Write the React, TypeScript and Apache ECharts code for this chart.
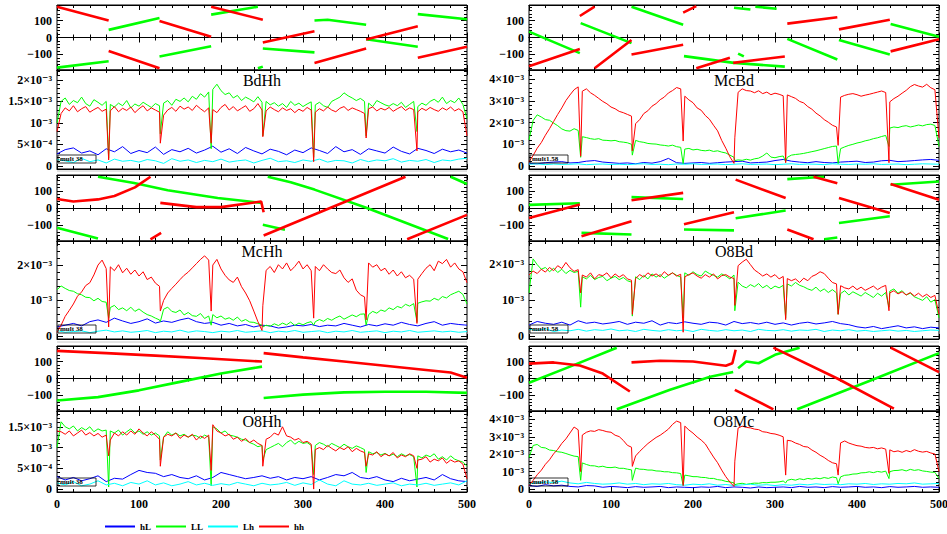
import { useEffect, useRef } from "react";
import * as echarts from "echarts";

// ---------- axes / ticks ----------
const X_MIN = 0;
const X_MAX = 500;
const X_TICK = 100;
const xTickLabels = [0, 100, 200, 300, 400, 500];
const DIP_X = [63, 126, 188, 251, 313, 377, 439];
const PHASE_MIN = -192;
const PHASE_MAX = 192;
const phaseLabelValues = [-100, 0, 100];
const phaseMinorTicks = [-180, -160, -140, -120, -80, -60, -40, -20, 20, 40, 60, 80, 120, 140, 160, 180];
// amplitude values are stored in units of 1e-5
const ampLabelText: Record<number, string> = {
  0: "0", 50: "5×10⁻⁴", 100: "10⁻³", 150: "1.5×10⁻³", 200: "2×10⁻³", 300: "3×10⁻³", 400: "4×10⁻³",
};
const seriesNames = ["hL", "LL", "Lh", "hh"];
const seriesColors = ["#0000ff", "#00ff00", "#00ffff", "#ff0000"];

// ---------- BdHh ----------
const bdhhHh = [80,122,135,128,140,126,133,138,125,131,136,127,132, 128,138,126,134,129,137,124,133,140,128,135,130,125, 118,130,136,127,139,132,137,129,141,133,126,135, 131,124,136,143,130,138,128,134,140,127,133,145,130, 128,137,131,126,135,129,133,124,132,127,136,130, 125,133,128,137,130,126,134,138,129,135,131,127,122, 133,137,128,134,130,136,127,133,138,129,135,131, 126,134,129,136,131,127,135,130,137,128,133,126,70];
const bdhhHhDip = [14, 53, 53, 68, 10, 65, 35];
const bdhhLL = [100,150,158,143,152,147,160,145,139,154,148,141,150, 143,137,146,140,152,135,144,139,148,142,136,145,140, 146,152,141,155,150,158,149,162,155,168,160,172, 178,190,175,166,170,158,164,152,160,155,149,161,148, 150,142,147,139,145,136,150,141,146,138,144,149, 142,148,140,136,150,155,160,170,163,158,152,157,150, 146,138,152,147,142,139,145,140,148,136,143,150, 138,146,141,150,155,148,160,145,152,147,158,143,110];
const bdhhLLDip = [18, 75, 40, 70, 20, 70, 80];
const bdhhHL = [28,38,42,30,35,26,40,33,45,29, 36,31,44,27,38,33,41,30,37,46, 32,40,29,43,35,28,39,34,26,37, 31,42,36,29,45,33,38,27,40,35, 30,44,34,28,41,36,29,39,33,37,30];
const bdhhLh = [15,12,8,18,10,14,7,16,11,13, 9,15,12,6,17,11,14,8,13,10, 16,9,12,14,7,13,18,10,12,8, 14,11,16,9,13,12,7,15,10,14, 12,17,9,13,11,15,8,14,12,16,18];
const bdhhPhaseHh = [[[0,182],[63,100]], [[63,-80],[125,-182]], [[125,97],[188,5]], [[188,182],[251,105]], [[251,-30],[314,37]], [[314,-150],[377,-65]], [[377,-12],[440,67]], [[440,-120],[500,-55]]];
const bdhhPhaseLL = [[[0,-178],[63,-140]], [[63,45],[125,115]], [[125,-112],[188,-52]], [[188,135],[245,182]], [[245,-182],[251,-172]], [[251,-65],[314,-88]], [[314,100],[330,105],[377,75]], [[377,-10],[440,-55]], [[440,138],[500,108]]];

// ---------- McBd ----------
const mcbdHh = [20,48,82,108,142,172,205,238,268,302,328,352,365, 345,356,338,326,312,298,287,272,264,252,246,238,230, 195,214,242,255,276,288,306,318,337,348,362,356, 322,305,292,268,257,233,216,188,162,118,82,42,12, 340,356,348,346,338,347,334,341,329,336,331,324, 328,320,312,298,291,274,262,244,231,214,202,188,180, 318,326,331,334,329,322,327,331,336,341,346,339, 296,311,322,336,349,366,376,369,364,377,361,352,130];
const mcbdHhDip = [45, 70, 115, 130, 15, 95, 15];
const mcbdLL = [120,210,236,226,214,211,198,186,171,163,161,172,164, 135,131,126,123,126,119,118,116,118,112,110,107,100, 118,112,109,104,102,101,97,95,92,96,89,86, 78,81,74,77,72,70,73,67,70,64,60,50,40, 28,26,31,27,33,36,46,60,41,38,43,46, 40,50,53,55,58,62,66,70,75,80,85,90,92, 80,88,95,100,106,110,116,120,126,130,136,141, 175,180,177,183,186,180,184,189,185,191,193,187,90];
const mcbdLLDip = [40, 50, 10, 25, 20, 10, 90];
const mcbdHL = [12,10,15,18,20,14,16,22,25,18, 15,12,14,10,16,13,20,35,15,12, 14,16,12,15,18,20,22,14,16,18, 25,30,22,18,15,20,16,14,18,20, 22,16,18,24,26,20,22,25,28,30,26];
const mcbdLh = [8,10,6,9,7,8,10,6,8,9, 7,8,6,9,10,7,8,6,9,8, 10,7,8,9,6,8,10,7,8,9, 6,8,10,7,9,8,6,10,8,7, 9,8,10,7,8,9,6,8,10,9,8];
const mcbdPhaseHh = [[[0,-170],[62,-68]], [[62,127],[80,182]], [[80,-182],[125,-15]], [[125,-100],[188,-43]], [[188,147],[204,185]], [[204,-182],[245,-120]], [[249,-150],[312,-112]], [[315,82],[376,120]], [[378,48],[440,105]], [[441,-82],[500,-10]]];
const mcbdPhaseLL = [[[0,35],[62,-92]], [[63,85],[125,-33]], [[125,182],[188,75]], [[189,-110],[250,-150],[312,-172]], [[250,176],[270,165]], [[276,182],[302,170]], [[255,-95],[262,-112]], [[315,-8],[376,-130]], [[378,-15],[440,-100]], [[441,80],[500,5]]];

// ---------- McHh ----------
const mchhHh = [10,30,55,72,90,112,124,142,150,172,200,214,190, 195,184,201,178,191,174,186,169,181,159,166,149,140, 100,121,134,146,159,171,180,192,204,216,226,214, 200,216,189,171,158,151,166,139,121,99,70,40,15, 185,196,179,201,189,206,184,196,211,189,201,184, 196,184,201,189,179,176,186,164,151,161,129,116,110, 206,194,201,184,191,174,186,169,181,164,171,160, 160,176,191,201,184,211,204,216,194,206,189,181,150];
const mchhHhDip = [25, 70, 70, 85, 50, 45, 35];
const mchhLL = [130,141,134,128,126,119,116,109,108,99,106,97,95, 80,86,74,79,71,81,69,76,67,60,56,50,45, 75,81,69,66,73,59,66,57,55,63,49,56, 60,51,56,47,51,44,53,41,46,39,38,34,30, 30,27,34,29,36,31,39,29,36,31,37,40, 40,46,41,49,44,51,56,47,53,59,54,61,62, 60,69,64,73,69,79,74,83,79,89,84,91, 92,96,99,98,106,101,111,107,116,121,126,117,90];
const mchhLLDip = [50, 40, 30, 25, 30, 30, 40];
const mchhHL = [25,30,35,28,40,45,38,50,42,35, 40,48,36,42,38,45,50,40,35,38, 30,35,28,32,25,30,28,22,25,30, 28,32,26,30,28,35,30,25,32,28, 34,30,38,32,28,35,40,30,35,32,30];
const mchhLh = [15,10,12,14,9,13,16,11,14,10, 12,15,9,13,11,16,10,14,12,9, 13,11,15,10,12,14,9,13,11,15, 10,12,14,9,13,11,15,10,12,14, 9,13,11,15,10,12,14,11,13,10,12];
const mchhPhaseHh = [[[0,52],[20,38],[50,50],[70,70],[95,120],[114,182]], [[114,-182],[127,-145]], [[126,30],[170,5],[200,5],[249,38],[252,-25]], [[252,-160],[425,182]], [[427,-182],[500,-40]]];
const mchhPhaseLL = [[[0,-115],[50,-178]], [[50,182],[94,145],[135,103],[196,58],[249,30]], [[251,-97],[278,-126]], [[257,182],[285,150],[314,107],[378,0],[477,-180]], [[480,182],[500,140]]];

// ---------- O8Bd ----------
const o8bdHh = [170,181,174,186,178,191,182,196,188,205,190,180,185, 170,164,176,159,171,168,176,162,173,164,171,159,155, 160,171,164,176,167,173,165,179,169,176,167,172, 165,171,176,167,161,171,164,173,159,168,171,164,160, 196,206,214,199,184,176,167,173,164,171,159,166, 160,154,159,149,161,154,166,171,179,174,161,149,145, 140,134,131,139,129,136,127,133,139,129,136,141, 120,126,117,123,114,121,111,119,109,116,107,113,60];
const o8bdHhDip = [120, 60, 10, 85, 45, 60, 70];
const o8bdLL = [120,215,199,186,191,179,189,177,186,174,183,177,180, 165,159,169,157,163,166,154,161,166,157,163,154,150, 165,157,169,159,173,164,171,161,169,176,169,164, 176,169,179,171,167,181,174,169,164,173,167,159,170, 150,139,134,143,137,146,134,141,131,139,134,141, 145,139,149,141,137,131,127,136,124,131,121,129,120, 118,126,114,123,117,111,121,114,107,119,111,121, 125,131,119,126,114,119,109,104,99,109,94,101,50];
const o8bdLLDip = [80, 55, 50, 70, 50, 60, 80];
const o8bdHL = [30,40,35,32,38,30,42,35,38,33, 36,40,32,38,35,42,30,37,34,39, 35,32,38,36,30,40,34,37,33,38, 32,36,30,35,38,33,36,40,34,31, 25,22,26,20,24,28,22,25,20,24,22];
const o8bdLh = [18,15,20,12,16,14,18,13,17,15, 19,14,16,12,18,15,13,17,14,16, 12,18,15,13,17,14,16,12,18,15, 14,17,13,16,15,18,12,16,14,17, 13,15,12,14,16,13,15,12,14,16,15];
const o8bdPhaseHh = [[[0,-58],[62,20]], [[64,-165],[125,-77]], [[125,45],[188,88]], [[189,-95],[250,-25]], [[252,165],[313,58]], [[315,-125],[347,-182]], [[347,182],[376,144]], [[378,58],[440,-29]], [[441,140],[500,48]]];
const o8bdPhaseLL = [[[0,18],[62,28]], [[64,-145],[125,-154]], [[125,63],[188,52]], [[189,-125],[250,-130]], [[252,-60],[313,-15]], [[315,168],[360,182]], [[360,-182],[376,-172]], [[378,-87],[440,-48]], [[441,135],[500,154]]];

// ---------- O8Hh ----------
const o8hhHh = [140,138,132,140,128,135,142,130,136,128,134,125,130, 118,135,128,138,130,140,132,145,135,128,138,130,120, 125,132,128,135,122,130,125,132,118,128,122,130, 155,140,135,128,132,120,125,115,122,112,118,110,105, 120,125,135,130,150,128,125,118,122,112,115,108, 95,100,95,105,98,92,100,95,102,90,98,92,88, 85,82,90,78,85,80,88,75,82,78,85,80, 70,72,78,65,72,68,75,62,70,65,68,60,25];
const o8hhHhDip = [80, 55, 45, 55, 0, 55, 50];
const o8hhLL = [100,162,150,145,152,140,148,142,150,138,145,140,142, 140,135,142,130,138,145,135,140,132,138,130,135,128, 125,138,130,135,128,132,125,130,128,122,130,125, 150,145,135,140,130,128,125,120,118,112,108,102,105, 95,100,105,110,102,112,118,108,115,110,112,105, 105,112,108,102,110,105,100,108,102,98,104,100,95, 90,85,88,82,86,80,84,78,85,80,83,78, 80,75,82,78,85,72,78,70,80,72,68,65,55];
const o8hhLLDip = [5, 70, 8, 70, 35, 40, 5];
const o8hhHL = [30,22,28,20,25,32,18,26,24,35, 45,40,38,30,35,28,25,32,22,28, 40,35,30,25,28,32,26,30,22,28, 25,30,22,28,35,32,40,28,25,30, 22,18,26,20,24,28,22,35,25,20,18];
const o8hhLh = [15,10,18,8,12,20,10,14,8,16, 12,20,10,15,8,12,18,10,14,9, 13,10,16,12,8,14,10,12,16,9, 15,11,22,12,8,20,12,10,14,9, 12,15,8,12,10,14,9,12,15,10,20];
const o8hhPhaseHh = [[[0,163],[60,150],[120,135],[180,120],[250,100]], [[252,150],[300,125],[350,100],[400,75],[450,50],[480,35],[500,5]]];
const o8hhPhaseLL = [[[0,-130],[50,-110],[100,-70],[150,-20],[200,30],[250,70]], [[252,-115],[300,-95],[350,-82],[400,-78],[450,-78],[500,-85]]];

// ---------- O8Mc ----------
const o8mcHh = [20,50,82,108,142,168,202,228,262,288,322,356,340, 310,326,334,331,341,336,329,326,309,301,279,251,240, 190,216,239,261,279,296,309,326,344,371,390,381, 361,339,321,299,281,259,221,184,151,109,71,40,15, 350,361,354,351,344,341,329,326,319,316,309,300, 280,276,264,256,244,241,224,211,194,181,164,151,145, 265,276,264,256,249,246,239,236,239,231,236,229, 225,214,219,211,221,214,226,217,212,216,207,201,100];
const o8mcHhDip = [100, 130, 20, 160, 80, 80, 90];
const o8mcLL = [180,250,256,239,236,224,221,214,211,204,196,189,186, 150,141,134,133,127,131,124,123,126,119,119,114,110, 120,114,113,109,109,104,103,99,99,94,93,89, 80,76,71,71,67,66,61,61,54,51,44,41,35, 30,33,27,31,34,33,37,36,39,39,41,46, 50,56,51,59,54,61,57,63,59,66,61,69,65, 70,79,81,86,87,93,94,99,94,101,97,103, 100,106,107,111,104,113,107,111,104,101,97,96,60];
const o8mcLLDip = [50, 50, 20, 25, 35, 30, 60];
const o8mcHL = [20,15,25,18,22,15,12,20,18,10, 15,12,8,14,10,12,15,8,12,10, 8,12,10,15,8,12,10,6,12,8, 10,12,8,15,10,12,8,14,10,12, 15,10,12,8,14,10,12,15,10,12,10];
const o8mcLh = [30,35,40,38,45,35,30,38,32,28, 30,35,28,32,25,30,28,32,25,22, 28,25,30,22,26,20,24,28,22,25, 20,25,22,28,24,30,26,28,25,30, 28,32,26,30,28,32,30,35,28,30,32];
const o8mcPhaseHh = [[[0,88],[30,95],[62,77],[90,29],[123,-77]], [[125,95],[160,105],[200,100],[240,75],[248,90],[252,170]], [[251,-67],[298,-182]], [[298,182],[376,0],[445,-178]], [[441,182],[500,38]]];
const o8mcPhaseLL = [[[0,-25],[50,70],[107,182]], [[107,-182],[172,-67],[221,10],[249,38]], [[255,60],[265,100],[280,90],[300,140],[330,182]], [[327,-182],[415,-15],[500,150]]];

// ---------- panels ----------
const panels = [
  { title: "BdHh", col: 0, row: 0, mult: "mult 38", ampMin: -7, ampMax: 223, ampLabels: [0, 50, 100, 150, 200], ampMinor: 10,
    amp: [bdhhHL, bdhhLL, bdhhLh, bdhhHh], dips: [null, bdhhLLDip, null, bdhhHhDip], phase: [bdhhPhaseLL, bdhhPhaseHh] },
  { title: "McBd", col: 1, row: 0, mult: "mult1.58", ampMin: -14, ampMax: 443, ampLabels: [0, 100, 200, 300, 400], ampMinor: 20,
    amp: [mcbdHL, mcbdLL, mcbdLh, mcbdHh], dips: [null, mcbdLLDip, null, mcbdHhDip], phase: [mcbdPhaseLL, mcbdPhaseHh] },
  { title: "McHh", col: 0, row: 1, mult: "mult 38", ampMin: -9, ampMax: 268, ampLabels: [0, 100, 200], ampMinor: 20,
    amp: [mchhHL, mchhLL, mchhLh, mchhHh], dips: [null, mchhLLDip, null, mchhHhDip], phase: [mchhPhaseLL, mchhPhaseHh] },
  { title: "O8Bd", col: 1, row: 1, mult: "mult1.58", ampMin: -9, ampMax: 265, ampLabels: [0, 100, 200], ampMinor: 20,
    amp: [o8bdHL, o8bdLL, o8bdLh, o8bdHh], dips: [null, o8bdLLDip, null, o8bdHhDip], phase: [o8bdPhaseLL, o8bdPhaseHh] },
  { title: "O8Hh", col: 0, row: 2, mult: "mult 38", ampMin: -7, ampMax: 188, ampLabels: [0, 50, 100, 150], ampMinor: 10,
    amp: [o8hhHL, o8hhLL, o8hhLh, o8hhHh], dips: [null, o8hhLLDip, null, o8hhHhDip], phase: [o8hhPhaseLL, o8hhPhaseHh] },
  { title: "O8Mc", col: 1, row: 2, mult: "mult1.58", ampMin: -17, ampMax: 448, ampLabels: [0, 100, 200, 300, 400], ampMinor: 20,
    amp: [o8mcHL, o8mcLL, o8mcLh, o8mcHh], dips: [null, o8mcLLDip, null, o8mcHhDip], phase: [o8mcPhaseLL, o8mcPhaseHh] },
];

const COLS = [{ left: 57, width: 410 }, { left: 529, width: 410 }];
const ROWS = [
  { pTop: 5, pH: 65, aTop: 70, aH: 99 },
  { pTop: 175, pH: 66, aTop: 241, aH: 98 },
  { pTop: 346, pH: 65, aTop: 411, aH: 81 },
];

const FONT = "'Liberation Serif', 'DejaVu Serif', serif";
const labelFont = { fontFamily: FONT, fontWeight: "bold" as const, fontSize: 12, color: "#000" };

function ampData(values: number[], dips: number[] | null) {
  const step = (X_MAX - X_MIN) / (values.length - 1);
  const pts: any[] = values.map((v, i) => [X_MIN + i * step, v]);
  if (dips) DIP_X.forEach((x, k) => pts.push([x, dips[k]]));
  pts.sort((a, b) => a[0] - b[0]);
  return pts;
}

function phaseData(segs: number[][][]) {
  const out: any[] = [];
  segs.forEach((s, k) => {
    if (k > 0) out.push([s[0][0], null]);
    s.forEach((p) => out.push([p[0], p[1]]));
  });
  return out;
}

function xAx(grid: number, pos: string, extra: any = {}) {
  return {
    type: "value", gridIndex: grid, min: X_MIN, max: X_MAX, interval: X_TICK, position: pos,
    axisLine: { show: true, onZero: false, lineStyle: { color: "#000", width: 1 } },
    axisTick: { show: true, inside: true, length: 5, lineStyle: { color: "#000" } },
    minorTick: { show: true, splitNumber: 5, length: 3, lineStyle: { color: "#000" } },
    axisLabel: { show: false },
    splitLine: { show: false },
    minorSplitLine: { show: false },
    ...extra,
  };
}

function yAx(grid: number, pos: string, min: number, max: number, ticks: number[], len: number, labels?: number[], fmt?: (v: number) => string) {
  return {
    type: "value", gridIndex: grid, min, max, position: pos,
    axisLine: { show: false, onZero: false },
    axisTick: { show: true, inside: true, length: len, customValues: ticks, lineStyle: { color: "#000" } },
    axisLabel: labels ? { show: true, customValues: labels, formatter: fmt, margin: 5, ...labelFont } : { show: false },
    splitLine: { show: false },
  };
}

function buildOption() {
  const grid: any[] = [], xAxis: any[] = [], yAxis: any[] = [], series: any[] = [], graphic: any[] = [];
  const phaseFmt = (v: number) => (v < 0 ? "−" + Math.abs(v) : String(v));
  const ampFmt = (v: number) => ampLabelText[Math.round(v)] ?? "";

  panels.forEach((p) => {
    const c = COLS[p.col];
    const r = ROWS[p.row];
    // phase panel
    const gP = grid.length;
    grid.push({ left: c.left, top: r.pTop, width: c.width, height: r.pH, show: true, borderColor: "#000", borderWidth: 1, containLabel: false, outerBoundsMode: "none" });
    const yP = yAxis.length;
    yAxis.push(yAx(gP, "left", PHASE_MIN, PHASE_MAX, phaseLabelValues, 6, phaseLabelValues, phaseFmt));
    yAxis.push(yAx(gP, "left", PHASE_MIN, PHASE_MAX, phaseMinorTicks, 3));
    yAxis.push(yAx(gP, "right", PHASE_MIN, PHASE_MAX, phaseLabelValues, 6));
    yAxis.push(yAx(gP, "right", PHASE_MIN, PHASE_MAX, phaseMinorTicks, 3));
    const xP = xAxis.length;
    const zeroLine = { show: true, onZero: true, onZeroAxisIndex: yP, lineStyle: { color: "#000", width: 1 } };
    xAxis.push(xAx(gP, "bottom", { axisLine: zeroLine }));
    xAxis.push(xAx(gP, "top", { axisLine: zeroLine }));
    // border ticks of phase panel
    const gD = grid.length;
    grid.push({ left: c.left, top: r.pTop, width: c.width, height: r.pH, show: false, containLabel: false, outerBoundsMode: "none" });
    yAxis.push({ type: "value", gridIndex: gD, min: PHASE_MIN, max: PHASE_MAX, show: false });
    xAxis.push(xAx(gD, "bottom"));
    xAxis.push(xAx(gD, "top"));

    [1, 3].forEach((k, j) => {
      series.push({
        type: "line", name: seriesNames[k], xAxisIndex: xP, yAxisIndex: yP,
        data: phaseData(p.phase[j] as any), showSymbol: false, symbol: "none", clip: true, silent: true,
        color: seriesColors[k], lineStyle: { color: seriesColors[k], width: 2.6 }, connectNulls: false, z: 2 + j,
      });
    });

    // amplitude panel
    const gA = grid.length;
    grid.push({ left: c.left, top: r.aTop, width: c.width, height: r.aH, show: true, borderColor: "#000", borderWidth: 1, containLabel: false, outerBoundsMode: "none" });
    const minor: number[] = [];
    for (let v = p.ampMinor; v < p.ampMax; v += p.ampMinor) if (!p.ampLabels.includes(v)) minor.push(v);
    const yA = yAxis.length;
    yAxis.push(yAx(gA, "left", p.ampMin, p.ampMax, p.ampLabels, 6, p.ampLabels, ampFmt));
    yAxis.push(yAx(gA, "left", p.ampMin, p.ampMax, minor, 3));
    yAxis.push(yAx(gA, "right", p.ampMin, p.ampMax, p.ampLabels, 6));
    yAxis.push(yAx(gA, "right", p.ampMin, p.ampMax, minor, 3));
    const xA = xAxis.length;
    xAxis.push(xAx(gA, "bottom", p.row === 2 ? { axisLabel: { show: true, customValues: xTickLabels, margin: 6, ...labelFont } } : {}));
    xAxis.push(xAx(gA, "top"));

    p.amp.forEach((vals, k) => {
      series.push({
        type: "line", name: seriesNames[k], xAxisIndex: xA, yAxisIndex: yA,
        data: ampData(vals, p.dips[k] as any), showSymbol: false, symbol: "none", clip: true, silent: true,
        color: seriesColors[k], lineStyle: { color: seriesColors[k], width: 1 }, z: 2 + k,
      });
    });

    // title
    graphic.push({ type: "text", x: c.left + c.width / 2, y: r.aTop + 10, z: 100,
      style: { text: p.title, fill: "#000", font: `16px ${FONT}`, align: "center", verticalAlign: "middle" } });
    // mult box
    const zeroY = r.aTop + r.aH - 3;
    graphic.push({ type: "rect", shape: { x: c.left + 1, y: zeroY - 11, width: 38, height: 8 }, z: 100,
      style: { fill: "rgba(255,255,255,0)", stroke: "#000", lineWidth: 0.8 } });
    graphic.push({ type: "text", x: c.left + 3, y: zeroY - 7, z: 101,
      style: { text: p.mult, fill: "#000", font: `bold 7px ${FONT}`, align: "left", verticalAlign: "middle" } });
  });

  // light separators above lower groups
  [171, 342].forEach((y) => {
    COLS.forEach((c) => {
      graphic.push({ type: "line", shape: { x1: c.left, y1: y, x2: c.left + c.width, y2: y }, style: { stroke: "#c8c8c8", lineWidth: 1 }, z: 100 });
    });
  });

  return {
    animation: false,
    backgroundColor: "#fff",
    grid, xAxis, yAxis, series, graphic,
    legend: {
      data: seriesNames, left: 100, top: 517, icon: "rect", itemWidth: 30, itemHeight: 2, itemGap: 5,
      selectedMode: false,
      textStyle: { fontFamily: FONT, fontWeight: "bold", fontSize: 9, color: "#000", width: 12 },
    },
  };
}

export default function App() {
  const ref = useRef<HTMLDivElement>(null);
  useEffect(() => {
    document.body.style.margin = "0";
    if (!ref.current) return;
    const chart = echarts.init(ref.current, undefined, { renderer: "svg" });
    chart.setOption(buildOption() as any);
    return () => chart.dispose();
  }, []);
  return <div ref={ref} style={{ width: 947, height: 534 }} />;
}
